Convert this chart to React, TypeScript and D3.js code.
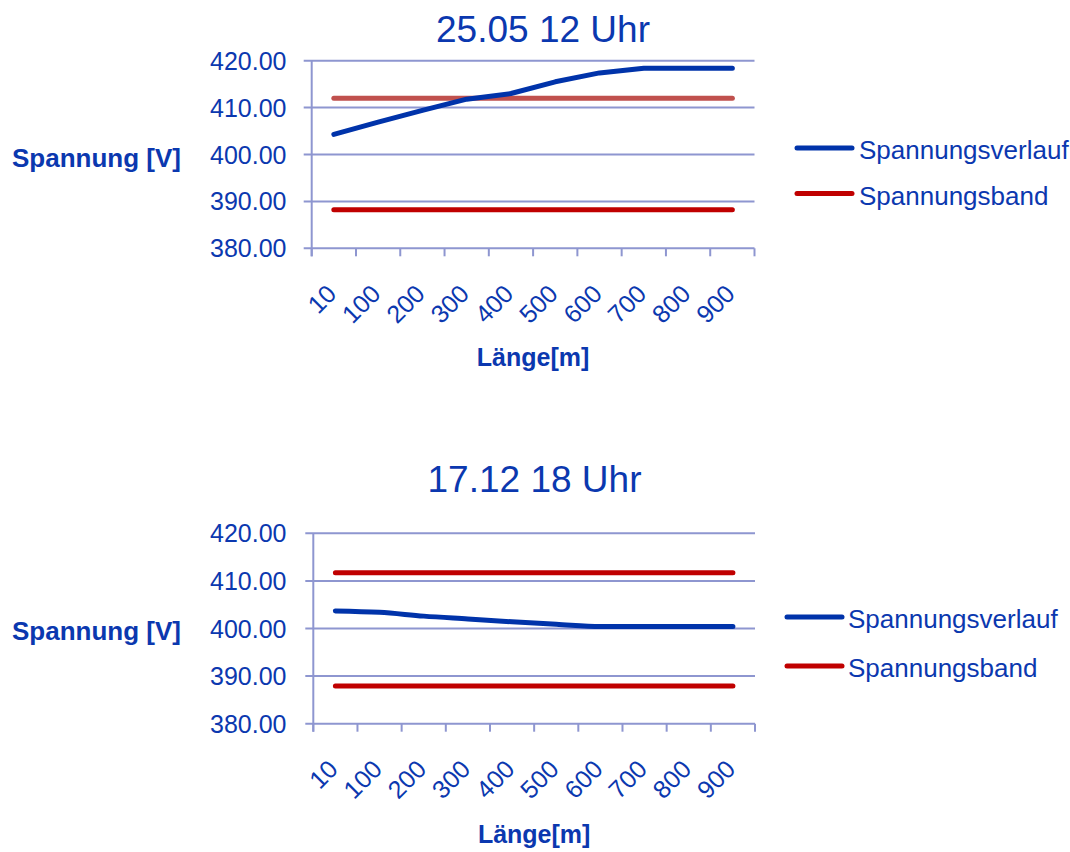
import React from "react";
import * as d3 from "d3";

const categories = ["10", "100", "200", "300", "400", "500", "600", "700", "800", "900"];
const yTicks = [380, 390, 400, 410, 420];

const mayVerlauf = [404.3, 406.9, 409.4, 411.8, 413.0, 415.5, 417.4, 418.4, 418.4, 418.4];
const mayBandUpper = [412.0, 412.0, 412.0, 412.0, 412.0, 412.0, 412.0, 412.0, 412.0, 412.0];
const mayBandLower = [388.2, 388.2, 388.2, 388.2, 388.2, 388.2, 388.2, 388.2, 388.2, 388.2];

const decVerlauf = [403.7, 403.4, 402.6, 402.0, 401.4, 400.9, 400.4, 400.4, 400.4, 400.4];
const decBandUpper = [411.7, 411.7, 411.7, 411.7, 411.7, 411.7, 411.7, 411.7, 411.7, 411.7];
const decBandLower = [387.9, 387.9, 387.9, 387.9, 387.9, 387.9, 387.9, 387.9, 387.9, 387.9];

const TEXT = "#0B38AF";
const GRID = "#8E96D0";
const BLUE = "#0033AA";
const RED = "#C00000";
const RED_LIGHT = "#C0504D";
const FONT = "'Liberation Sans', Arial, sans-serif";

type Series = { values: number[]; color: string };

type ChartProps = {
  title: string;
  titleX: number;
  titleY: number;
  left: number;
  right: number;
  top: number;
  bottom: number;
  series: Series[];
  smooth: boolean;
  legendLineX: number;
  legendTextX: number;
  legendY1: number;
  legendY2: number;
  yTitleY: number;
  xTitleY: number;
};

function Chart(p: ChartProps) {
  const x = d3.scaleBand<string>().domain(categories).range([p.left, p.right]);
  const y = d3.scaleLinear().domain([380, 420]).range([p.bottom, p.top]);
  const cx = (c: string) => (x(c) as number) + x.bandwidth() / 2;

  const mkLine = (smooth: boolean) =>
    d3
      .line<number>()
      .x((_, i) => cx(categories[i]))
      .y((v) => y(v))
      .curve(smooth ? d3.curveMonotoneX : d3.curveLinear);

  const bounds = [...categories.map((c) => x(c) as number), p.right];

  return (
    <g fontFamily={FONT}>
      <text x={p.titleX} y={p.titleY} textAnchor="middle" fontSize={37} fill={TEXT}>
        {p.title}
      </text>
      {yTicks.map((t) => (
        <g key={t}>
          <line x1={p.left - 8} x2={p.right} y1={y(t)} y2={y(t)} stroke={GRID} strokeWidth={2} />
          <text x={286.5} y={y(t) + 9} textAnchor="end" fontSize={25} fill={TEXT}>
            {t.toFixed(2)}
          </text>
        </g>
      ))}
      <line x1={p.left} x2={p.left} y1={p.top} y2={p.bottom + 8} stroke={GRID} strokeWidth={2} />
      {bounds.map((b, i) => (
        <line key={i} x1={b} x2={b} y1={p.bottom} y2={p.bottom + 8} stroke={GRID} strokeWidth={2} />
      ))}
      {categories.map((c) => (
        <text
          key={c}
          transform={`translate(${cx(c) + 4},${p.bottom + 47}) rotate(-45)`}
          textAnchor="end"
          fontSize={25}
          fill={TEXT}
        >
          {c}
        </text>
      ))}
      {p.series.map((s, i) => (
        <path
          key={i}
          d={mkLine(p.smooth && s.color === BLUE)(s.values) || ""}
          fill="none"
          stroke={s.color}
          strokeWidth={5}
          strokeLinecap="round"
          strokeLinejoin="round"
        />
      ))}
      <text x={12} y={p.yTitleY} fontSize={26} fontWeight="bold" fill={TEXT}>
        Spannung [V]
      </text>
      <text x={(p.left + p.right) / 2} y={p.xTitleY} textAnchor="middle" fontSize={25} fontWeight="bold" fill={TEXT}>
        Länge[m]
      </text>
      <line x1={p.legendLineX} x2={p.legendLineX + 55} y1={p.legendY1} y2={p.legendY1} stroke={BLUE} strokeWidth={5} strokeLinecap="round" />
      <text x={p.legendTextX} y={p.legendY1 + 11} fontSize={26} fill={TEXT}>
        Spannungsverlauf
      </text>
      <line x1={p.legendLineX} x2={p.legendLineX + 55} y1={p.legendY2} y2={p.legendY2} stroke={RED} strokeWidth={5} strokeLinecap="round" />
      <text x={p.legendTextX} y={p.legendY2 + 11} fontSize={26} fill={TEXT}>
        Spannungsband
      </text>
    </g>
  );
}

export default function App() {
  return (
    <svg width={1070} height={852} style={{ position: "absolute", left: 0, top: 0, background: "#fff" }}>
      <Chart
        title="25.05 12 Uhr"
        titleX={543}
        titleY={42}
        left={311.7}
        right={754.5}
        top={60.7}
        bottom={248.3}
        series={[
          { values: mayBandUpper, color: RED_LIGHT },
          { values: mayBandLower, color: RED },
          { values: mayVerlauf, color: BLUE },
        ]}
        smooth={false}
        legendLineX={797}
        legendTextX={859}
        legendY1={148}
        legendY2={193.5}
        yTitleY={167}
        xTitleY={366}
      />
      <Chart
        title="17.12 18 Uhr"
        titleX={534.5}
        titleY={492}
        left={313.3}
        right={755}
        top={533.3}
        bottom={723.7}
        series={[
          { values: decBandUpper, color: RED },
          { values: decBandLower, color: RED },
          { values: decVerlauf, color: BLUE },
        ]}
        smooth={true}
        legendLineX={787}
        legendTextX={848}
        legendY1={617}
        legendY2={666}
        yTitleY={640}
        xTitleY={843}
      />
    </svg>
  );
}
